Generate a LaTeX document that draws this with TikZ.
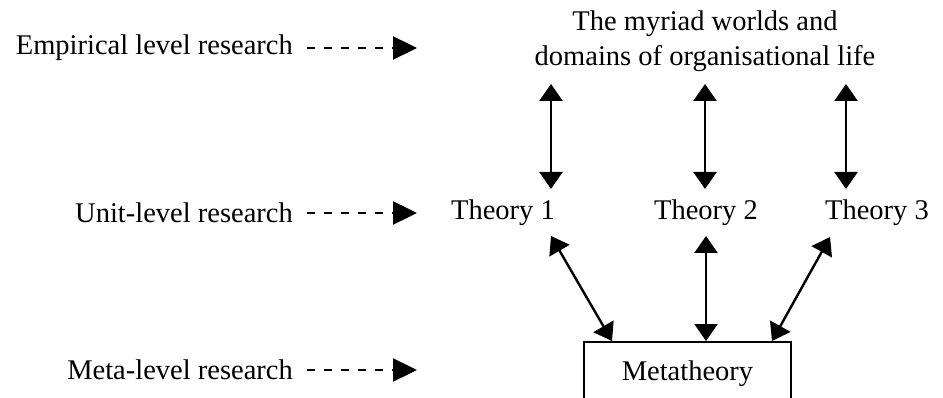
\documentclass[tikz,border=0pt]{standalone}
\usepackage{fontspec}
\setmainfont{Liberation Serif}
\usetikzlibrary{arrows.meta}
\begin{document}
\begin{tikzpicture}[x=1pt,y=-1pt,
  txt/.style={font=\fontsize{28.5}{35}\selectfont, inner sep=0pt},
  levelarrow/.style={line width=2.4pt, dash pattern=on 8pt off 9pt, -{Triangle[length=24pt,width=23pt]}},
  dbl/.style={line width=2.4pt, {Triangle[length=17pt,width=23pt]}-{Triangle[length=17pt,width=23pt]}},
  box/.style={draw, line width=1.2pt, minimum width=207pt, minimum height=62pt, inner sep=0pt}]
\useasboundingbox (0,0) rectangle (943,398);
\clip (0,0) rectangle (943,398);
% left labels
\node[txt, anchor=east] (emp) at (293,48) {Empirical level research};
\node[txt, anchor=east] (unit) at (293,213) {Unit-level research};
\node[txt, anchor=east] (meta) at (293,370) {Meta-level research};
\coordinate (empT) at (417,48);
\coordinate (unitT) at (417,213);
\coordinate (metaT) at (417,370);
\draw[levelarrow] ([xshift=14pt]emp.east) -- (empT);
\draw[levelarrow] ([xshift=14pt]unit.east) -- (unitT);
\draw[levelarrow] ([xshift=14pt]meta.east) -- (metaT);
% top text
\node[txt, align=center] (world) at (705,41) {The myriad worlds and\\domains of organisational life};
% theories
\node[txt] (t1) at (503,213) {Theory 1};
\node[txt] (t2) at (706,213) {Theory 2};
\node[txt] (t3) at (877,213) {Theory 3};
% metatheory box
\node[box, txt] (mt) at (687.5,373) {};
\node[txt] (mtl) at (687.5,374) {Metatheory};
% vertical arrows world <-> theories
\coordinate (a1t) at (551,84);
\coordinate (a1b) at (551,189);
\coordinate (a2t) at (705,84);
\coordinate (a2b) at (705,189);
\coordinate (a3t) at (846,84);
\coordinate (a3b) at (846,189);
\draw[dbl] (a1t) -- (a1b);
\draw[dbl] (a2t) -- (a2b);
\draw[dbl] (a3t) -- (a3b);
% theory <-> metatheory
\coordinate (b1t) at (551,236);
\coordinate (b1b) at (612,341);
\coordinate (b2t) at (706,236);
\coordinate (b2b) at (706,341);
\coordinate (b3t) at (830,237);
\coordinate (b3b) at (772,341);
\draw[dbl] (b1t) -- (b1b);
\draw[dbl] (b2t) -- (b2b);
\draw[dbl] (b3t) -- (b3b);
\end{tikzpicture}
\end{document}
